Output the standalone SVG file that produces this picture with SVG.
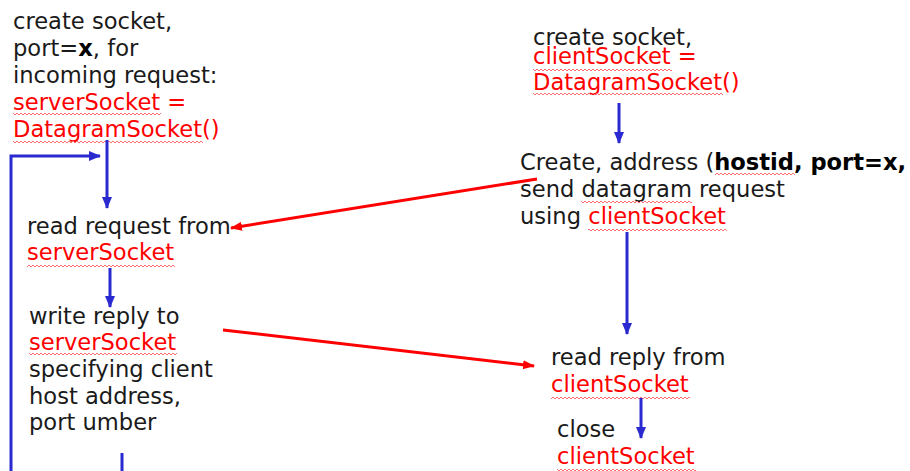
<svg xmlns="http://www.w3.org/2000/svg" width="910" height="471" viewBox="0 0 910 471">
<defs>
<style>
text{font-family:"DejaVu Sans","Liberation Sans",sans-serif;font-size:22.6px;fill:#1a1a1a}
.r{fill:#ff0000}
.b{font-weight:bold;fill:#000}
.blue{stroke:#2a2ad0;stroke-width:3;fill:none}
.red{stroke:#ff0000;stroke-width:3;fill:none}
.sq{fill:url(#wave)}
</style>
<pattern id="wave" width="4" height="4" patternUnits="userSpaceOnUse">
<path d="M0,2 Q1,0 2,2 T4,2" fill="none" stroke="#ff7070" stroke-width="1"/>
</pattern>
<marker id="ab" markerUnits="userSpaceOnUse" markerWidth="12" markerHeight="12" viewBox="0 0 12 12" refX="11" refY="6" orient="auto">
<path d="M0,1 L12,6 L0,11 z" fill="#2a2ad0"/>
</marker>
<marker id="ar" markerUnits="userSpaceOnUse" markerWidth="12" markerHeight="12" viewBox="0 0 12 12" refX="11" refY="6" orient="auto">
<path d="M0,1.5 L12,6 L0,10.5 z" fill="#ff0000"/>
</marker>
</defs>
<rect width="910" height="471" fill="#fff"/>

<g id="server-create">
<text x="13" y="29">create socket,</text>
<text x="13" y="56">port=<tspan class="b">x</tspan>, for</text>
<text x="13" y="83">incoming request:</text>
<text x="13" y="110" class="r">serverSocket =</text>
<text x="13" y="137" class="r">DatagramSocket()</text>
<rect class="sq" x="13" y="113" width="148" height="4"/>
<rect class="sq" x="13" y="140" width="190" height="4"/>
</g>

<g id="server-read">
<text x="27" y="234">read request from</text>
<text x="27" y="260" class="r">serverSocket</text>
<rect class="sq" x="27" y="263" width="148" height="4"/>
</g>

<g id="server-write">
<text x="29" y="324">write reply to</text>
<text x="29" y="350" class="r">serverSocket</text>
<text x="29" y="377">specifying client</text>
<text x="29" y="404">host address,</text>
<text x="29" y="430">port umber</text>
<rect class="sq" x="29" y="353" width="148" height="4"/>
</g>

<g id="client-create">
<text x="533" y="45">create socket,</text>
<text x="533" y="64" class="r">clientSocket =</text>
<text x="533" y="90" class="r">DatagramSocket()</text>
<rect class="sq" x="533" y="67" width="139" height="4"/>
<rect class="sq" x="533" y="93" width="190" height="4"/>
</g>

<g id="client-send">
<text x="520" y="170">Create, address (<tspan class="b">hostid, port=x,</tspan></text>
<text x="520" y="197">send datagram request</text>
<text x="520" y="224">using <tspan class="r">clientSocket</tspan></text>
<rect class="sq" x="715" y="173" width="80" height="4"/>
<rect class="sq" x="581" y="200" width="111" height="4"/>
<rect class="sq" x="588" y="227" width="139" height="4"/>
</g>

<g id="client-read">
<text x="551" y="365">read reply from</text>
<text x="551" y="392" class="r">clientSocket</text>
<rect class="sq" x="551" y="395" width="139" height="4"/>
</g>

<g id="client-close">
<text x="557" y="437">close</text>
<text x="557" y="464" class="r">clientSocket</text>
<rect class="sq" x="557" y="467" width="139" height="4"/>
</g>

<g id="connectors">
<path class="blue" d="M107,140 V208" marker-end="url(#ab)"/>
<path class="blue" d="M11,471 V156 H100" marker-end="url(#ab)"/>
<path class="blue" d="M110,268 V307" marker-end="url(#ab)"/>
<path class="blue" d="M122,453 V471"/>
<path class="blue" d="M619,103 V143" marker-end="url(#ab)"/>
<path class="blue" d="M627,232 V334" marker-end="url(#ab)"/>
<path class="blue" d="M641,398 V438" marker-end="url(#ab)"/>
<path class="red" d="M537,179 L231,228" marker-end="url(#ar)"/>
<path class="red" d="M223,330 L534,366" marker-end="url(#ar)"/>
</g>
</svg>
